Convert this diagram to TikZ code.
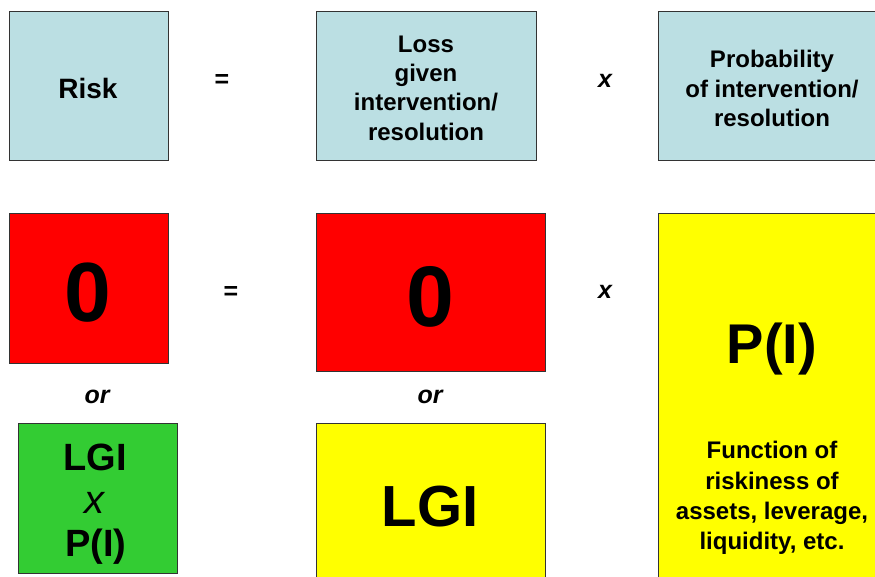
\documentclass[tikz,border=0pt]{standalone}
\usepackage{fontspec}
\setmainfont{Liberation Sans}
\definecolor{lblue}{HTML}{BBDFE3}
\definecolor{bred}{HTML}{FF0000}
\definecolor{bgreen}{HTML}{33CC33}
\definecolor{byellow}{HTML}{FFFF00}
\definecolor{edge}{HTML}{333333}
\tikzset{
  box/.style={draw=edge, line width=1pt, inner sep=0pt, rectangle},
  txt/.style={inner sep=0pt, align=center, font=\bfseries},
}
\newcommand{\fs}[2]{\fontsize{#1}{#2}\selectfont}
\begin{document}
\begin{tikzpicture}[x=1pt,y=-1pt]
\useasboundingbox (0,0) rectangle (875,577);
% row 1
\node[box, fill=lblue, minimum width=159pt, minimum height=149pt] (risk) at (88.5,86.5) {};
\node[txt, font=\bfseries\fs{28}{31}] (risktxt) at (88,88) {Risk};
\node[txt, font=\bfseries\fs{25}{29}] (eq1) at (222,81) {=};
\node[box, fill=lblue, minimum width=220pt, minimum height=149pt] (loss) at (426,86.5) {};
\node[txt, font=\bfseries\fs{24}{29.3}] (losstxt) at (426,88) {Loss\\given\\intervention/\\resolution};
\node[txt, font=\bfseries\itshape\fs{25}{29}] (x1) at (605,81) {x};
\node[box, fill=lblue, minimum width=228pt, minimum height=149pt] (prob) at (772,86.5) {};
\node[txt, font=\bfseries\fs{24}{29.5}] (probtxt) at (772,88.5) {Probability\\of intervention/\\resolution};
% row 2
\node[box, fill=bred, minimum width=159pt, minimum height=149pt] (zero1) at (88.5,288.5) {};
\node[txt, font=\bfseries\fs{84}{90}] (zero1txt) at (88,293) {0};
\node[txt, font=\bfseries\fs{25}{29}] (eq2) at (231,293) {=};
\node[box, fill=bred, minimum width=229pt, minimum height=157pt] (zero2) at (430.5,292.5) {};
\node[txt, font=\bfseries\fs{86}{90}] (zero2txt) at (430,297) {0};
\node[txt, font=\bfseries\itshape\fs{25}{29}] (x2) at (605,292) {x};
\node[box, fill=byellow, minimum width=228pt, minimum height=380pt] (pi) at (772,404) {};
\node[txt, font=\bfseries\fs{56}{60}] (pitxt) at (772,349) {P(I)};
\node[txt, font=\bfseries\fs{24}{30.3}] (functxt) at (772,498) {Function of\\riskiness of\\assets, leverage,\\liquidity, etc.};
% or
\node[txt, font=\bfseries\itshape\fs{25}{29}] (or1) at (97,397) {or};
\node[txt, font=\bfseries\itshape\fs{25}{29}] (or2) at (430,397) {or};
% row 3
\node[box, fill=bgreen, minimum width=159pt, minimum height=150pt] (green) at (97.5,498) {};
\node[txt, font=\bfseries\fs{38}{40}] (g1) at (95,457) {LGI};
\node[txt, font=\itshape\fs{40}{40}] (g2) at (94,503) {x};
\node[txt, font=\bfseries\fs{38}{40}] (g3) at (96,547) {P(I)};
\node[box, fill=byellow, minimum width=229pt, minimum height=170pt] (lgi) at (430.5,508) {};
\node[txt, font=\bfseries\fs{58}{60}] (lgitxt) at (430,507) {LGI};
\end{tikzpicture}
\end{document}
